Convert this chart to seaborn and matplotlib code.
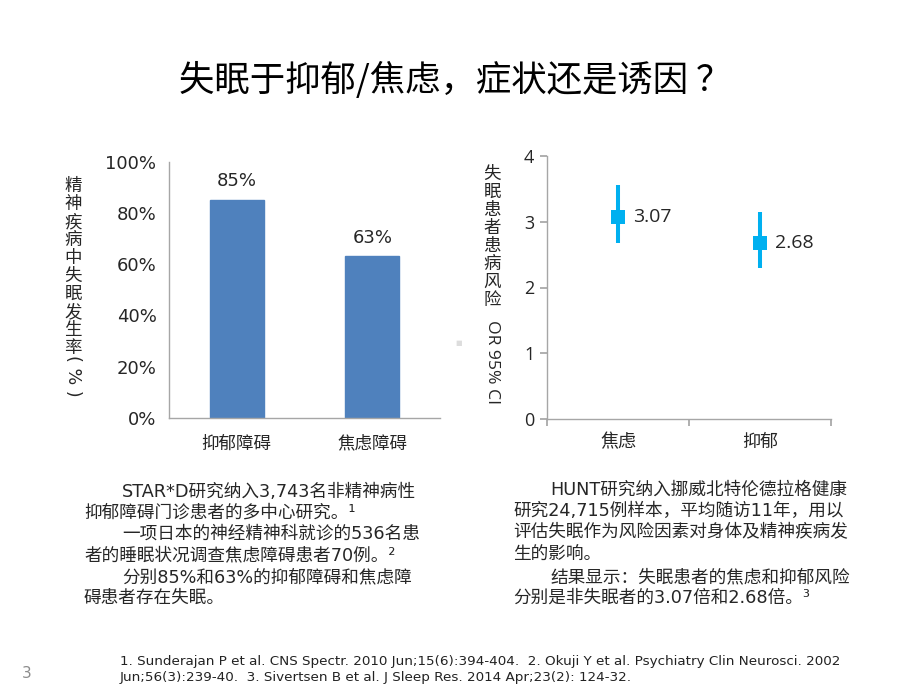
import matplotlib
matplotlib.use("Agg")
import matplotlib.pyplot as plt
import seaborn as sns
import pandas as pd

# ---- data ----
bar_categories = ["抑郁障碍", "焦虑障碍"]
bar_values = [0.85, 0.63]
bar_labels = ["85%", "63%"]
pct_ticks = [0, 0.2, 0.4, 0.6, 0.8, 1.0]
pct_tick_labels = ["0%", "20%", "40%", "60%", "80%", "100%"]

or_categories = ["焦虑", "抑郁"]
or_values = [3.07, 2.68]
or_low = [2.68, 2.29]
or_high = [3.56, 3.15]
or_labels = ["3.07", "2.68"]
or_ticks = [0, 1, 2, 3, 4]

sns.set_theme(style="white")
plt.rcParams["font.family"] = ["DejaVu Sans", "Noto Sans CJK SC"]

W, H = 920, 690
fig = plt.figure(figsize=(W / 100, H / 100), dpi=100)
fig.patch.set_facecolor("white")

def fx(x):
    return x / W

def fy(y):
    return 1 - y / H

CJK = ["Noto Sans CJK SC", "DejaVu Sans"]
MIX = ["DejaVu Sans", "Noto Sans CJK SC"]
SANS2 = ["Open Sans", "DejaVu Sans"]
spine_c = "#A6A6A6"

# ---- title ----
fig.text(fx(455), fy(80), "失眠于抑郁/焦虑，症状还是诱因 ？", ha="center", va="center",
         fontsize=25.5, family=CJK, color="black")

# ---- left bar chart ----
axL = fig.add_axes([fx(169), fy(417.7), (440 - 169) / W, (417.7 - 161.7) / H])
dfL = pd.DataFrame({"cat": bar_categories, "val": bar_values})
sns.barplot(data=dfL, x="cat", y="val", ax=axL, color="#4F81BD", width=0.4,
            saturation=1, edgecolor="#4F81BD")
axL.set_xlim(-0.5, 1.5)
axL.set_ylim(0, 1.0)
axL.set_yticks(pct_ticks)
axL.set_yticklabels(pct_tick_labels, fontsize=13, family=MIX)
axL.set_xticks(range(len(bar_categories)))
axL.set_xticklabels(bar_categories, fontsize=12.6, family=CJK)
axL.tick_params(axis="x", length=0, pad=12)
axL.tick_params(axis="y", length=0, pad=9)
axL.set_xlabel("")
axL.set_ylabel("")
for s in ["top", "right"]:
    axL.spines[s].set_visible(False)
for s in ["left", "bottom"]:
    axL.spines[s].set_color(spine_c)
    axL.spines[s].set_linewidth(1)
for i, (v, lab) in enumerate(zip(bar_values, bar_labels)):
    axL.annotate(lab, (i, v), xytext=(0, 7), textcoords="offset points",
                 ha="center", va="bottom", fontsize=13, family=MIX)

# left y label (vertical stacked)
fig.text(fx(73), fy(177), "\n".join("精神疾病中失眠发生率"), ha="center", va="top",
         fontsize=12.6, family=CJK, linespacing=1.0)
fig.text(fx(73), fy(376), "( % )", ha="center", va="center", rotation=270,
         fontsize=12.6, family=["DejaVu Sans"])

# ---- right OR chart ----
axR = fig.add_axes([fx(547), fy(419.3), (831 - 547) / W, (419.3 - 155.7) / H])
dfR = pd.DataFrame({"cat": or_categories, "val": or_values,
                    "lo": or_low, "hi": or_high})
axR.vlines(x=range(len(or_categories)), ymin=dfR["lo"], ymax=dfR["hi"],
           color="#00B0F0", linewidth=2.9, zorder=2)
sns.scatterplot(data=dfR, x="cat", y="val", ax=axR, marker="s", s=105,
                color="#00B0F0", edgecolor="#00B0F0", linewidth=0, zorder=3)
for i, (v, lab) in enumerate(zip(or_values, or_labels)):
    axR.annotate(lab, (i, v), xytext=(11, 0), textcoords="offset points",
                 ha="left", va="center", fontsize=14, family=SANS2)
axR.set_xlim(-0.5, 1.5)
axR.set_ylim(0, 4)
axR.set_yticks(or_ticks)
axR.set_yticklabels([str(t) for t in or_ticks], fontsize=13, family=SANS2)
axR.set_xticks([-0.5, 0.5, 1.5])
axR.set_xticklabels([])
axR.set_xticks(range(len(or_categories)), minor=True)
axR.set_xticklabels(or_categories, minor=True, fontsize=13, family=CJK)
axR.tick_params(axis="x", which="major", length=5, color=spine_c, direction="out", bottom=True)
axR.tick_params(axis="x", which="minor", length=0, pad=10, bottom=True)
axR.tick_params(axis="y", length=5, color=spine_c, direction="out", left=True, pad=4)
axR.set_xlabel("")
axR.set_ylabel("")
for s in ["top", "right"]:
    axR.spines[s].set_visible(False)
for s in ["left", "bottom"]:
    axR.spines[s].set_color(spine_c)
    axR.spines[s].set_linewidth(1)

fig.text(fx(492), fy(165), "\n".join("失眠患者患病风险"), ha="center", va="top",
         fontsize=12.6, family=CJK, linespacing=1.0)
fig.text(fx(492), fy(362), "OR 95% CI", ha="center", va="center", rotation=270,
         fontsize=12.6, family=SANS2)

# small gray square
fig.text(fx(459), fy(343), "■", ha="center", va="center", fontsize=5, color="#DDDDDD",
         family=["DejaVu Sans"])

# ---- text blocks ----
left_lines = [
    (122, 492, "STAR*D研究纳入3,743名非精神病性"),
    (84, 513, "抑郁障碍门诊患者的多中心研究。¹"),
    (122, 534, "一项日本的神经精神科就诊的536名患"),
    (84, 555, "者的睡眠状况调查焦虑障碍患者70例。²"),
    (122, 577, "分别85%和63%的抑郁障碍和焦虑障"),
    (84, 598, "碍患者存在失眠。"),
]
right_lines = [
    (550, 490, "HUNT研究纳入挪威北特伦德拉格健康"),
    (513, 511, "研究24,715例样本，平均随访11年，用以"),
    (513, 532, "评估失眠作为风险因素对身体及精神疾病发"),
    (513, 554, "生的影响。"),
    (550, 577, "结果显示：失眠患者的焦虑和抑郁风险"),
    (513, 598, "分别是非失眠者的3.07倍和2.68倍。³"),
]
for x, y, t in left_lines + right_lines:
    fig.text(fx(x), fy(y), t, ha="left", va="center", fontsize=12.7, family=MIX)

# ---- footnotes ----
fig.text(fx(120), fy(662), "1. Sunderajan P et al. CNS Spectr. 2010 Jun;15(6):394-404.  "
         "2. Okuji Y et al. Psychiatry Clin Neurosci. 2002", ha="left", va="center",
         fontsize=9.7, family=["DejaVu Sans"], color="#222222")
fig.text(fx(120), fy(678), "Jun;56(3):239-40.  3. Sivertsen B et al. J Sleep Res. 2014 Apr;23(2): 124-32.",
         ha="left", va="center", fontsize=9.7, family=["DejaVu Sans"], color="#222222")

fig.text(fx(27), fy(673), "3", ha="center", va="center", fontsize=11, color="#8C8C8C",
         family=["DejaVu Sans"])

fig.savefig("out.png", dpi=100, facecolor="white")
